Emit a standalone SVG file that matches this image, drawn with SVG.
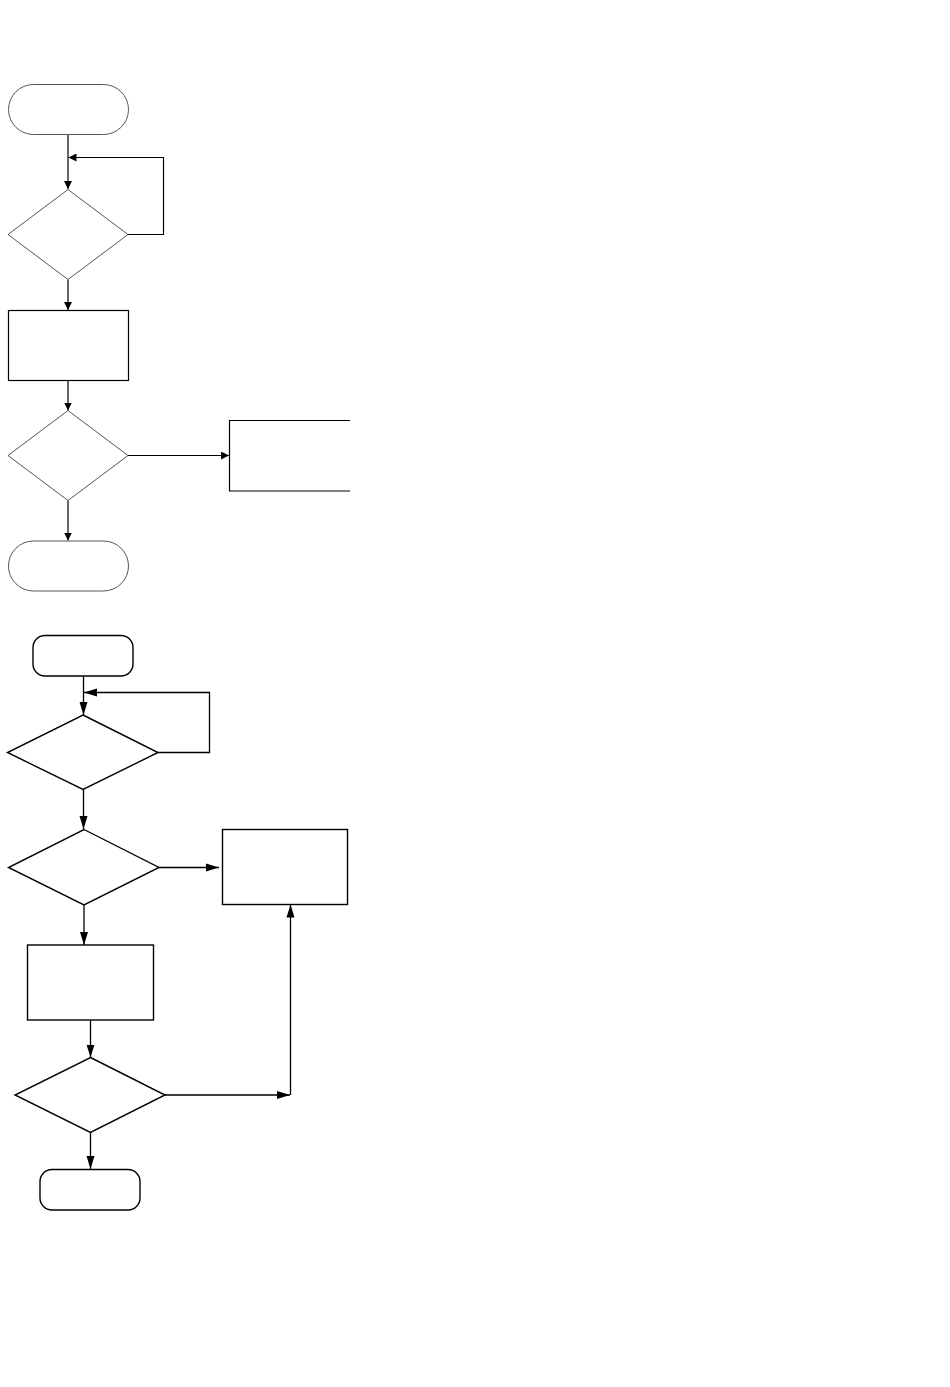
<svg xmlns="http://www.w3.org/2000/svg" width="950" height="1387" viewBox="0 0 950 1387">
<style>
.g{fill:#fff;stroke:#555;stroke-width:1}
.b{fill:#fff;stroke:#000;stroke-width:1.2}
.bt{fill:#fff;stroke:#000;stroke-width:1.4}
.c{fill:none;stroke:#000;stroke-width:1.2}
.c2{fill:none;stroke:#000;stroke-width:1.3}
</style>
<defs>
<marker id="a1" markerUnits="userSpaceOnUse" markerWidth="8" markerHeight="8" refX="8" refY="4" orient="auto"><path d="M0,0L8,4L0,8z" fill="#000"/></marker>
<marker id="a2" markerUnits="userSpaceOnUse" markerWidth="13" markerHeight="9" refX="13" refY="4.5" orient="auto"><path d="M0,0.5L13,4.5L0,8.5z" fill="#000"/></marker>
</defs>
<rect width="950" height="1387" fill="#fff"/>
<g id="connectors">
<path class="c" d="M68,134.5V189" marker-end="url(#a1)"/>
<path class="c" d="M128,234.5H163.5V157.5H68.5" marker-end="url(#a1)"/>
<path class="c" d="M68,279.5V310" marker-end="url(#a1)"/>
<path class="c" d="M68,380.5V410.5" marker-end="url(#a1)"/>
<path class="c" d="M128,455.5H229" marker-end="url(#a1)"/>
<path class="c" d="M68,500.5V540.5" marker-end="url(#a1)"/>
<path class="c2" d="M83.5,676V715" marker-end="url(#a2)"/>
<path class="c2" d="M158,752.5H209.5V692.5H84" marker-end="url(#a2)"/>
<path class="c2" d="M83.5,789.5V829" marker-end="url(#a2)"/>
<path class="c2" d="M159,867.5H219" marker-end="url(#a2)"/>
<path class="c2" d="M84,905V945" marker-end="url(#a2)"/>
<path class="c2" d="M90.5,1020V1057.5" marker-end="url(#a2)"/>
<path class="c2" d="M165,1095H290" marker-end="url(#a2)"/>
<path class="c2" d="M290.5,1095V904.5" marker-end="url(#a2)"/>
<path class="c2" d="M90.5,1132.5V1169" marker-end="url(#a2)"/>
</g>
<g id="start1"><rect class="g" x="8.5" y="84.5" width="120" height="50" rx="25"/></g>
<g id="decision1"><polygon class="g" points="68,189.5 128,234.5 68,279.5 8,234.5"/></g>
<g id="process1"><rect class="b" x="8.5" y="310.5" width="120" height="70"/></g>
<g id="decision2"><polygon class="g" points="68,410.5 128,455.5 68,500.5 8,455.5"/></g>
<g id="process2"><path class="b" d="M350,420.5H229.5V491H350"/></g>
<g id="end1"><rect class="g" x="8.5" y="541" width="120" height="50" rx="25"/></g>
<g id="start2"><rect class="bt" x="33" y="635.5" width="100" height="40.5" rx="12"/></g>
<g id="decision3"><polygon class="bt" points="83,715 158,752.5 83,789.5 7.5,752.5"/></g>
<g id="decision4"><polygon class="bt" points="84,829.5 159,867.5 84,905 8.5,867.5"/></g>
<g id="process3"><rect class="bt" x="222.5" y="829.5" width="125" height="75"/></g>
<g id="process4"><rect class="bt" x="27.5" y="945" width="126" height="75"/></g>
<g id="decision5"><polygon class="bt" points="90.5,1057.5 165,1095 90.5,1132.5 15,1095"/></g>
<g id="end2"><rect class="bt" x="40" y="1169.5" width="100" height="40.5" rx="12"/></g>
</svg>
